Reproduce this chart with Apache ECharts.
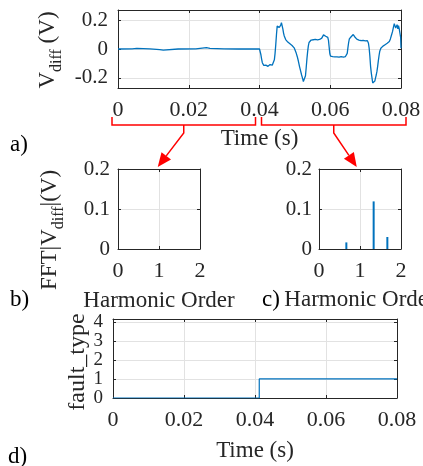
<!DOCTYPE html>
<html>
<head>
<meta charset="utf-8">
<script src="https://cdn.jsdelivr.net/npm/echarts@6/dist/echarts.min.js"></script>
<style>
html, body { margin: 0; padding: 0; background: #fff; }
#chart { width: 423px; height: 466px; }
</style>
</head>
<body>
<div id="chart"></div>
<script>
// a) differential voltage trace
const waveTime = [
    0, 0.004, 0.0053, 0.0056, 0.009, 0.0118, 0.0123, 0.0128, 0.0133, 0.017,
    0.022, 0.025, 0.0255, 0.026, 0.0265, 0.03, 0.034, 0.0385, 0.04,
    0.0402, 0.0404, 0.0406, 0.0408, 0.041, 0.0412, 0.0414, 0.0416, 0.0418, 0.042,
    0.0422, 0.0424, 0.0426, 0.0428, 0.043, 0.0432, 0.0434, 0.0436, 0.0438, 0.044,
    0.0442, 0.0444, 0.0446, 0.0448, 0.045, 0.0452, 0.0454, 0.0456, 0.0458, 0.046,
    0.0462, 0.0464, 0.0466, 0.0468, 0.047, 0.0472, 0.0474, 0.0476, 0.0478, 0.048,
    0.0483, 0.0486, 0.0489, 0.0492, 0.0495, 0.0498, 0.0501, 0.0504, 0.0507, 0.051,
    0.0513, 0.0516, 0.0519, 0.0522, 0.0524, 0.0526, 0.0528, 0.053, 0.0532, 0.0534,
    0.0536, 0.0538, 0.054, 0.0543, 0.0546, 0.0549, 0.0552, 0.0555, 0.0558, 0.0561,
    0.0564, 0.0567, 0.057, 0.0573, 0.0576, 0.0579, 0.0581, 0.0583, 0.0585, 0.0587,
    0.0589, 0.0591, 0.0593, 0.0595, 0.0597, 0.0599, 0.0601, 0.0604, 0.0607, 0.061,
    0.0613, 0.0616, 0.0619, 0.0622, 0.0625, 0.0628, 0.0631, 0.0634, 0.0637, 0.064,
    0.0643, 0.0646, 0.0648, 0.065, 0.0652, 0.0654, 0.0656, 0.0659, 0.0662, 0.0665,
    0.0667, 0.0669, 0.0672, 0.0675, 0.0678, 0.0681, 0.0684, 0.0687, 0.069, 0.0693,
    0.0696, 0.0699, 0.0702, 0.0705, 0.0708, 0.071, 0.0712, 0.0714, 0.0716, 0.0718,
    0.072, 0.0722, 0.0724, 0.0726, 0.0728, 0.073, 0.0732, 0.0734, 0.0736, 0.0738,
    0.074, 0.0743, 0.0746, 0.0749, 0.0752, 0.0755, 0.0758, 0.0761, 0.0764, 0.0767,
    0.077, 0.0773, 0.0776, 0.0779, 0.0781, 0.0783, 0.0785, 0.0787, 0.0789, 0.0791,
    0.0793, 0.0795, 0.0797, 0.0799, 0.08
];
const waveValue = [
    0, 0.001, 0.004, 0, 0.001, -0.004, -0.016, -0.008, 0.001, 0,
    0.001, 0.01, 0.018, 0.005, 0, 0.001, 0, 0, 0,
    -0.01, -0.04, -0.07, -0.095, -0.105, -0.113, -0.108, -0.12, -0.112, -0.118,
    -0.106, -0.12, -0.11, -0.117, -0.108, -0.119, -0.109, -0.112, -0.104, -0.1,
    -0.075, -0.03, 0.03, 0.1, 0.158, 0.168, 0.145, 0.15, 0.14, 0.165,
    0.182, 0.17, 0.14, 0.11, 0.09, 0.078, 0.065, 0.06, 0.052, 0.048,
    0.04, 0.036, 0.03, 0.024, 0.018, 0.008, -0.005, -0.03, -0.055, -0.085,
    -0.12, -0.15, -0.18, -0.205, -0.225, -0.235, -0.22, -0.185, -0.13, -0.07,
    -0.02, 0.02, 0.045, 0.055, 0.062, 0.056, 0.064, 0.058, 0.066, 0.057,
    0.063, 0.059, 0.066, 0.068, 0.075, 0.082, 0.098, 0.09, 0.1, 0.088,
    0.095, 0.09, 0.08, 0.06, 0.01, -0.035, -0.05, -0.058, -0.053, -0.062,
    -0.055, -0.06, -0.054, -0.062, -0.057, -0.06, -0.053, -0.061, -0.056, -0.058,
    -0.052, -0.05, -0.03, 0.01, 0.045, 0.07, 0.078, 0.085, 0.09, 0.1,
    0.095, 0.085, 0.075, 0.068, 0.07, 0.062, 0.066, 0.058, 0.065, 0.06,
    0.064, 0.056, 0.06, 0.058, 0.04, 0.005, -0.05, -0.12, -0.165, -0.2,
    -0.235, -0.245, -0.232, -0.222, -0.2, -0.18, -0.155, -0.12, -0.08, -0.045,
    -0.015, 0.005, 0.012, 0.02, 0.018, 0.03, 0.028, 0.04, 0.045, 0.052,
    0.07, 0.095, 0.12, 0.155, 0.175, 0.16, 0.145, 0.152, 0.168, 0.14,
    0.162, 0.14, 0.13, 0.08, 0.005
];

// b) / c) harmonic spectrum before and after the fault
const harmonicOrder = [0.667, 1.333, 1.667];
const fftBefore = [0, 0, 0];
const fftAfter = [0.0165, 0.119, 0.03];

// d) fault type flag
const faultTime = [0, 0.0412, 0.0412, 0.08];
const faultValue = [0, 0, 1, 1];

// tick labels
const timeTicks = [0, 0.02, 0.04, 0.06, 0.08];
const vdiffTicks = [-0.2, 0, 0.2];
const fftTicks = [0, 0.1, 0.2];
const harmonicTicks = [0, 1, 2];
const faultTicks = [0, 1, 2, 3, 4];

const FONT = "Liberation Serif";
const INK = "#262626";
const BLUE = "#0072BD";
const GRID_LINE = "#e2e2e2";

const chart = echarts.init(document.getElementById("chart"), null, { renderer: "canvas" });

function pairs(xs, ys)
{
    return xs.map(function (x, i) { return [x, ys[i]]; });
}

function frameAxis(gridIndex, position, min, max, ticks, opts)
{
    opts = opts || {};
    const showLabel = position === "bottom" || position === "left";
    return {
        type: "value",
        gridIndex: gridIndex,
        position: position,
        min: min,
        max: max,
        name: opts.name || "",
        nameLocation: "middle",
        nameGap: opts.nameGap || 0,
        nameTextStyle: { fontFamily: FONT, fontSize: 23, color: INK },
        axisLine: { show: true, onZero: false, lineStyle: { color: INK, width: 1 } },
        axisTick: { show: true, inside: true, length: 3, customValues: ticks, lineStyle: { color: INK } },
        axisLabel: {
            show: showLabel,
            customValues: ticks,
            margin: opts.margin || 8,
            fontFamily: FONT,
            fontSize: opts.fontSize || 22,
            color: INK,
            showMinLabel: true,
            showMaxLabel: true
        },
        splitLine: { show: showLabel, customValues: ticks, lineStyle: { color: GRID_LINE, width: 1 } }
    };
}

function plotGrid(left, top, width, height)
{
    return { left: left, top: top, width: width, height: height, outerBoundsMode: "none", containLabel: false };
}

const option = {
    animation: false,
    backgroundColor: "#fff",
    grid: [
        plotGrid(118, 10, 283, 78),
        plotGrid(118, 169, 82, 80),
        plotGrid(319, 169, 82, 80),
        plotGrid(113, 319, 284, 79)
    ],
    xAxis: [
        frameAxis(0, "bottom", 0, 0.08, timeTicks, { name: "Time (s)", nameGap: 39, margin: 11 }),
        frameAxis(1, "bottom", 0, 2, harmonicTicks, { name: "Harmonic Order", nameGap: 40, margin: 11 }),
        frameAxis(2, "bottom", 0, 2, harmonicTicks, { margin: 11 }),
        frameAxis(3, "bottom", 0, 0.08, timeTicks, { name: "Time (s)", nameGap: 41, margin: 11 }),
        frameAxis(0, "top", 0, 0.08, timeTicks),
        frameAxis(1, "top", 0, 2, harmonicTicks),
        frameAxis(2, "top", 0, 2, harmonicTicks),
        frameAxis(3, "top", 0, 0.08, timeTicks)
    ],
    yAxis: [
        frameAxis(0, "left", -0.27, 0.27, vdiffTicks, { margin: 10, fontSize: 21 }),
        frameAxis(1, "left", 0, 0.2, fftTicks, { margin: 8, fontSize: 21 }),
        frameAxis(2, "left", 0, 0.2, fftTicks, { margin: 7, fontSize: 21 }),
        frameAxis(3, "left", 0, 4.15, faultTicks, { margin: 10, fontSize: 19 }),
        frameAxis(0, "right", -0.27, 0.27, vdiffTicks),
        frameAxis(1, "right", 0, 0.2, fftTicks),
        frameAxis(2, "right", 0, 0.2, fftTicks),
        frameAxis(3, "right", 0, 4.15, faultTicks)
    ],
    series: [
        {
            type: "line",
            xAxisIndex: 0,
            yAxisIndex: 0,
            symbol: "none",
            lineStyle: { color: BLUE, width: 1.3 },
            data: pairs(waveTime, waveValue)
        },
        {
            type: "bar",
            xAxisIndex: 1,
            yAxisIndex: 1,
            barWidth: 2,
            itemStyle: { color: BLUE },
            data: pairs(harmonicOrder, fftBefore)
        },
        {
            type: "bar",
            xAxisIndex: 2,
            yAxisIndex: 2,
            barWidth: 2,
            itemStyle: { color: BLUE },
            data: pairs(harmonicOrder, fftAfter)
        },
        {
            type: "line",
            xAxisIndex: 3,
            yAxisIndex: 3,
            symbol: "none",
            lineStyle: { color: BLUE, width: 1.2 },
            data: pairs(faultTime, faultValue)
        }
    ]
};

chart.setOption(option);

// labels and the red braces/arrows drawn on top
const RED = "#ff0000";

function plainLabel(text, x, y, align, color)
{
    return {
        type: "text",
        x: x,
        y: y,
        style: { text: text, fontFamily: FONT, fontSize: 23, fill: color, align: align, verticalAlign: "middle" }
    };
}

function verticalLabel(text, x, y, size)
{
    return {
        type: "text",
        x: x,
        y: y,
        rotation: Math.PI / 2,
        style: {
            text: text,
            fontFamily: FONT,
            fontSize: size,
            fill: INK,
            align: "center",
            verticalAlign: "middle",
            rich: {
                m: { fontFamily: FONT, fontSize: size, lineHeight: size + 1, verticalAlign: "top", fill: INK },
                s: { fontFamily: FONT, fontSize: 16, lineHeight: 16, padding: [13, 0, 0, 0], verticalAlign: "top", fill: INK }
            }
        }
    };
}

function brace(x0, x1, dx)
{
    const mid = (x0 + x1) / 2;
    const tip = [mid + dx, 167];
    const vx = tip[0] - mid;
    const vy = tip[1] - 133;
    const len = Math.sqrt(vx * vx + vy * vy);
    const ux = vx / len;
    const uy = vy / len;
    const base = [tip[0] - ux * 14, tip[1] - uy * 14];
    return [
        {
            type: "polyline",
            shape: { points: [[x0, 117], [x0, 125], [x1, 125], [x1, 117]] },
            style: { stroke: RED, lineWidth: 1.5, fill: null }
        },
        {
            type: "polyline",
            shape: { points: [[mid, 125], [mid, 133], base] },
            style: { stroke: RED, lineWidth: 1.5, fill: null }
        },
        {
            type: "polygon",
            shape: { points: [tip, [base[0] + uy * 6, base[1] - ux * 6], [base[0] - uy * 6, base[1] + ux * 6]] },
            style: { fill: RED }
        }
    ];
}

const px0 = chart.convertToPixel({ xAxisIndex: 0 }, 0);
const px4 = chart.convertToPixel({ xAxisIndex: 0 }, 0.04);
const px8 = chart.convertToPixel({ xAxisIndex: 0 }, 0.08);
const cMid = chart.convertToPixel({ xAxisIndex: 2 }, 1);

chart.setOption({
    graphic: [].concat(
        brace(px0 - 6, px4 - 4, -26),
        brace(px4 + 2, px8 + 5, 23),
        [
            verticalLabel("{m|V}{s|diff}{m| (V)}", 48, 50, 23),
            verticalLabel("{m|FFT|V}{s|diff}{m||(V)}", 50, 230, 23),
            verticalLabel("{m|fault_type}", 78, 362, 24),
            plainLabel("Harmonic Order", cMid, 300, "center", INK),
            plainLabel("a)", 10, 145, "left", "#000"),
            plainLabel("b)", 10, 300, "left", "#000"),
            plainLabel("c)", 262, 300, "left", "#000"),
            plainLabel("d)", 8, 457, "left", "#000")
        ]
    )
});
</script>
</body>
</html>
